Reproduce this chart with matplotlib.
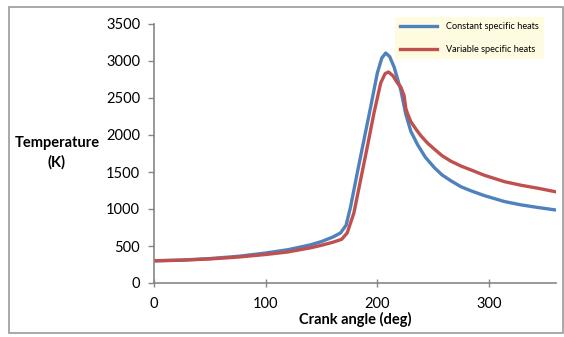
import matplotlib
matplotlib.use("Agg")
import matplotlib.pyplot as plt
from matplotlib.patches import Rectangle
from matplotlib.lines import Line2D

plt.rcParams['font.family'] = ['Lato', 'DejaVu Sans']

# Constant specific heats
const_angle = [0, 25, 50, 75, 100, 120, 140, 150, 160, 167, 172, 176, 182, 188, 194,
               200, 204, 207.5, 211, 215, 221, 225.5, 230, 236, 243, 251, 258, 266, 275,
               284, 296, 314, 329, 344, 360]
const_temp = [300, 310, 330, 360, 405, 450, 515, 560, 620, 676, 780, 1027, 1486, 1932, 2378,
              2838, 3040, 3108, 3060, 2919, 2608, 2280, 2050, 1870, 1700, 1560, 1460, 1380, 1300,
              1245, 1180, 1100, 1055, 1020, 986]

# Variable specific heats
var_angle = [0, 25, 50, 75, 100, 120, 140, 150, 160, 168, 173, 179, 185, 191, 197,
             203, 207, 210, 214, 218, 221, 224, 225.5, 227, 230, 235, 239, 245, 251, 258,
             266, 275, 284, 296, 314, 329, 344, 360]
var_temp = [300, 308, 325, 350, 385, 420, 475, 510, 550, 590, 676, 946, 1392, 1838, 2297,
            2703, 2830, 2851, 2800, 2703, 2649, 2530, 2360, 2290, 2180, 2070, 1990, 1890, 1810, 1720,
            1645, 1580, 1527, 1455, 1369, 1320, 1280, 1232]

x_ticks = [0, 100, 200, 300]
y_ticks = [0, 500, 1000, 1500, 2000, 2500, 3000, 3500]

BLUE = '#4F81BD'
RED = '#C0504D'
GRAY = '#868686'

fig = plt.figure(figsize=(5.64, 3.37), dpi=100)
fig.patches.append(Rectangle((9 / 564, 4 / 337), 554 / 564, 326 / 337, transform=fig.transFigure,
                             fill=False, edgecolor='#9a9a9a', linewidth=1.2))
ax = fig.add_axes([154 / 564, 54 / 337, 402 / 564, 259 / 337])

ax.plot(const_angle, const_temp, color=BLUE, linewidth=2.4, solid_capstyle='round',
        solid_joinstyle='round')
ax.plot(var_angle, var_temp, color=RED, linewidth=2.4, solid_capstyle='round',
        solid_joinstyle='round')

ax.set_xlim(0, 360)
ax.set_ylim(0, 3500)
ax.set_xticks(x_ticks)
ax.set_yticks(y_ticks)
ax.tick_params(axis='both', labelsize=10.5, colors=GRAY, labelcolor='black', width=1)
ax.tick_params(axis='y', direction='out', length=4, pad=6)
ax.tick_params(axis='x', direction='inout', length=6, pad=7)
for s in ['top', 'right']:
    ax.spines[s].set_visible(False)
for s in ['left', 'bottom']:
    ax.spines[s].set_color(GRAY)
    ax.spines[s].set_linewidth(1.2)

ax.set_xlabel('Crank angle (deg)', fontsize=10.5, fontweight='bold', labelpad=1)
fig.text(57 / 564, 1 - 153 / 337, 'Temperature\n(K)', ha='center', va='center',
         fontsize=10.5, fontweight='bold', linespacing=1.4)

handles = [Line2D([], [], color=BLUE, linewidth=2.4), Line2D([], [], color=RED, linewidth=2.4)]
leg = fig.legend(handles, ['Constant specific heats', 'Variable specific heats'],
                 loc='upper left', bbox_to_anchor=(390 / 564, 1 - 12 / 337),
                 fontsize=6.6, frameon=True, facecolor='#FFFBE0', edgecolor='none',
                 handlelength=4.0, handletextpad=1.0, labelspacing=1.5, borderpad=0.6)
leg.get_frame().set_alpha(1)

fig.savefig('out.png', dpi=100)
